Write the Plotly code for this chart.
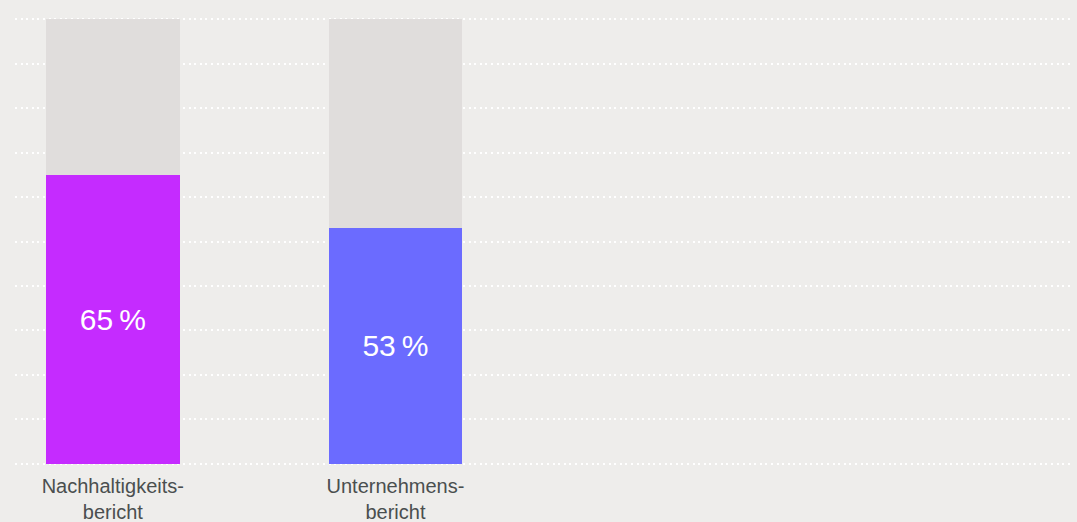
import plotly.graph_objects as go

categories = ["Nachhaltigkeits-<br>bericht", "Unternehmens-<br>bericht"]
values = [65, 53]
colors = ["#c52bff", "#6b6bff"]
total = 100

x_pos = list(range(len(categories)))
rest = [total - v for v in values]
labels = [f"{v}\u202f%" for v in values]

fig = go.Figure()
fig.add_trace(go.Bar(
    x=x_pos, y=values, marker=dict(color=colors, line=dict(width=0)),
    text=labels, textposition="inside", insidetextanchor="middle",
    textfont=dict(color="white", size=30, family="Liberation Sans"),
    width=0.473, hoverinfo="skip"))
fig.add_trace(go.Bar(
    x=x_pos, y=rest, marker=dict(color="#e0dddc", line=dict(width=0)),
    width=0.473, hoverinfo="skip"))

fig.update_layout(
    barmode="stack", showlegend=False,
    width=1077, height=522,
    margin=dict(l=15, r=6, t=17, b=56, autoexpand=False),
    paper_bgcolor="#eeedeb", plot_bgcolor="#eeedeb",
    font=dict(family="Liberation Sans", color="#4a4f4f", size=20),
)
fig.update_xaxes(
    tickmode="array", tickvals=x_pos, ticktext=categories, automargin=False,
    range=[-0.346, 3.39], showgrid=False, zeroline=False, showline=False,
    ticks="", ticklabelstandoff=6, tickfont=dict(size=20, color="#4a4f4f"))
fig.update_yaxes(
    range=[-0.5, 100.5], dtick=10, tick0=0, showticklabels=False, zeroline=False,
    automargin=False,
    showgrid=True, gridcolor="white", griddash="2px,3.6px", gridwidth=2, showline=False)

fig.write_html("out.html", config={"displayModeBar": False},
               post_script="document.body.style.margin='0';")
